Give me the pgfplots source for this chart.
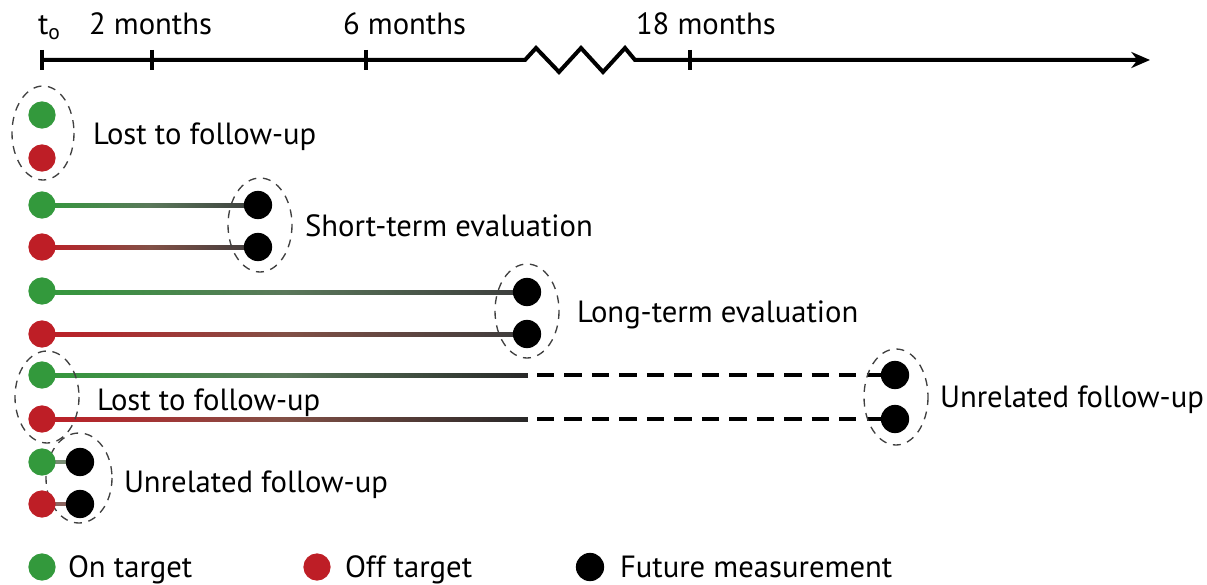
\documentclass[border=0pt]{standalone}
\usepackage{pgfplots}
\pgfplotsset{compat=1.18}
\usepackage{fontspec}
\setmainfont{PT Sans}
\usetikzlibrary{arrows.meta}
\definecolor{ongreen}{RGB}{51,153,60}
\definecolor{offred}{RGB}{190,30,38}
\begin{document}
\begin{tikzpicture}[
  lbl/.style={anchor=base west, inner sep=0pt, outer sep=0pt, font=\fontsize{11.5}{14}\selectfont},
  ell/.style={black!75, line width=0.5pt, dash pattern=on 3pt off 2.5pt},
]
\begin{axis}[name=ax,
  width=452.625pt, height=219pt, scale only axis,
  xmin=0, xmax=1207, ymin=0, ymax=584, y dir=reverse,
  axis lines=none, clip=false,
  point meta min=0, point meta max=1,
]
% timeline
\addplot[black, line width=1.5pt, -{Stealth[length=7pt,width=6pt]}] coordinates {(42,60)(525,60)(536,48)(559,72)(581,48)(603,72)(625,48)(635,60)(1150,60)};
\addplot[black, line width=1.5pt] coordinates {(42,50)(42,70)};
\addplot[black, line width=1.5pt] coordinates {(152,50)(152,70)};
\addplot[black, line width=1.5pt] coordinates {(366,50)(366,70)};
\addplot[black, line width=1.5pt] coordinates {(690,50)(690,70)};
\node[lbl] at (axis cs:38,35) {t\textsubscript{o}};
\node[lbl] at (axis cs:89,35) {2 months};
\node[lbl] at (axis cs:343,35) {6 months};
\node[lbl] at (axis cs:636,35) {18 months};

% gradient lines (green / red to dark gray)
\addplot[patch, patch type=rectangle, shader=interp, colormap={g}{rgb255=(51,153,60) rgb255=(90,120,90) rgb255=(60,60,60)}, point meta=explicit]
  table[meta=c] {x y c
42 202.5 0
258 202.5 1
258 207.5 1
42 207.5 0
};
\addplot[patch, patch type=rectangle, shader=interp, colormap={r}{rgb255=(190,30,38) rgb255=(130,80,70) rgb255=(60,60,60)}, point meta=explicit]
  table[meta=c] {x y c
42 244.5 0
258 244.5 1
258 249.5 1
42 249.5 0
};
\addplot[patch, patch type=rectangle, shader=interp, colormap={g}{rgb255=(51,153,60) rgb255=(90,120,90) rgb255=(60,60,60)}, point meta=explicit]
  table[meta=c] {x y c
42 289.5 0
527 289.5 1
527 294.5 1
42 294.5 0
};
\addplot[patch, patch type=rectangle, shader=interp, colormap={r}{rgb255=(190,30,38) rgb255=(130,80,70) rgb255=(60,60,60)}, point meta=explicit]
  table[meta=c] {x y c
42 331.5 0
527 331.5 1
527 336.5 1
42 336.5 0
};
\addplot[patch, patch type=rectangle, shader=interp, colormap={g}{rgb255=(51,153,60) rgb255=(90,120,90) rgb255=(40,40,40)}, point meta=explicit]
  table[meta=c] {x y c
42 372.5 0
527 372.5 1
527 377.5 1
42 377.5 0
};
\addplot[patch, patch type=rectangle, shader=interp, colormap={r}{rgb255=(190,30,38) rgb255=(130,80,70) rgb255=(40,40,40)}, point meta=explicit]
  table[meta=c] {x y c
42 416.5 0
527 416.5 1
527 421.5 1
42 421.5 0
};
% dashed continuations
\addplot[black, line width=1.8pt, dash pattern=on 6.5pt off 3.8pt] coordinates {(537,375)(882,375)};
\addplot[black, line width=1.8pt, dash pattern=on 6.5pt off 3.8pt] coordinates {(537,419)(882,419)};
% short lines
\addplot[color={rgb,255:red,120;green,140;blue,115}, line width=1.5pt] coordinates {(42,462)(80,462)};
\addplot[color={rgb,255:red,140;green,100;blue,95}, line width=1.5pt] coordinates {(42,504)(80,504)};

% dots
\addplot[only marks, mark=*, mark size=4.9pt, ongreen, mark options={draw=ongreen, fill=ongreen}] coordinates {(42,115)(42,205)(42,291)(42,375)(42,462)(42,567)};
\addplot[only marks, mark=*, mark size=4.9pt, offred, mark options={draw=offred, fill=offred}] coordinates {(42,158)(42,247)(42,334)(42,419)(42,504)(317,567)};
\addplot[only marks, mark=*, mark size=5.1pt, black] coordinates {(258,205)(258,247)(527,292)(527,334)(895,375)(895,419)(80,462)(80,504)(590,567)};

% dashed ellipses
\draw[ell] (axis cs:43,133) ellipse [x radius=31, y radius=47];
\draw[ell] (axis cs:260,225) ellipse [x radius=32, y radius=47];
\draw[ell] (axis cs:527,311) ellipse [x radius=32, y radius=47];
\draw[ell] (axis cs:47,397) ellipse [x radius=32, y radius=46];
\draw[ell] (axis cs:896,397) ellipse [x radius=32, y radius=48];
\draw[ell] (axis cs:79,478) ellipse [x radius=33, y radius=45];

% labels
\node[lbl] at (axis cs:93,145) {Lost to follow-up};
\node[lbl] at (axis cs:305,236) {Short-term evaluation};
\node[lbl] at (axis cs:577,322) {Long-term evaluation};
\node[lbl] at (axis cs:97,410) {Lost to follow-up};
\node[lbl] at (axis cs:940,407) {Unrelated follow-up};
\node[lbl] at (axis cs:124,492) {Unrelated follow-up};
\node[lbl] at (axis cs:68,577) {On target};
\node[lbl] at (axis cs:345,577) {Off target};
\node[lbl] at (axis cs:620,577) {Future measurement};
\end{axis}
\pgfresetboundingbox
\useasboundingbox (ax.south west) rectangle (ax.north east);
\end{tikzpicture}
\end{document}
